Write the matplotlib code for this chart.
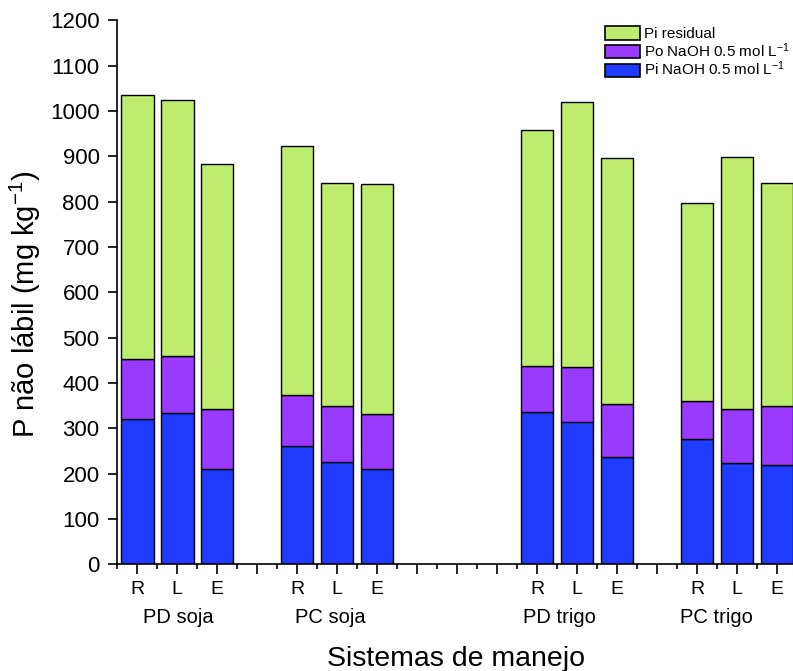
import numpy as np
import matplotlib
matplotlib.use("Agg")
import matplotlib.pyplot as plt
from matplotlib.patches import Patch

plt.rcParams["font.family"] = ["Liberation Sans", "DejaVu Sans"]
plt.rcParams["mathtext.fontset"] = "custom"
plt.rcParams["mathtext.rm"] = "Liberation Sans"
plt.rcParams["mathtext.it"] = "Liberation Sans:italic"
plt.rcParams["mathtext.bf"] = "Liberation Sans:bold"
plt.rcParams["mathtext.default"] = "regular"

# data (mg kg-1)
groups = ["PD soja", "PC soja", "PD trigo", "PC trigo"]
treatments = ["R", "L", "E"]
pi_naoh = [321, 334, 210, 260, 225, 210, 335, 315, 237, 276, 224, 220]
po_naoh = [132, 125, 133, 114, 124, 121, 103, 120, 117, 84, 119, 129]
pi_residual = [582, 565, 540, 549, 492, 507, 520, 584, 543, 438, 556, 493]

# layout: first slot of each group on the x axis
group_start = [1, 5, 11, 15]
group_label_x = [2.02, 5.82, 11.55, 15.49]

c_blue = "#1F3BFF"
c_purple = "#9B3AFF"
c_green = "#BEEC6E"

x = np.array([g + i for g in group_start for i in range(len(treatments))])
blue = np.array(pi_naoh)
purple = np.array(po_naoh)
green = np.array(pi_residual)

fig = plt.figure(figsize=(7.93, 6.71), dpi=100)
ax = fig.add_axes([117.3 / 793, 106.7 / 671, 680 / 793, 544 / 671])

bw = 0.81
kw = dict(width=bw, edgecolor="black", linewidth=1.0)
ax.bar(x, blue, color=c_blue, **kw)
ax.bar(x, purple, bottom=blue, color=c_purple, **kw)
ax.bar(x, green, bottom=blue + purple, color=c_green, **kw)

ax.set_xlim(0.5, 17.5)
ax.set_ylim(0, 1200)
ax.set_yticks(np.arange(0, 1201, 100))

major = np.arange(1, 18)
labels = []
for m in major:
    if m in x:
        labels.append(treatments[list(x).index(m) % 3])
    else:
        labels.append("")
ax.set_xticks(major)
ax.set_xticklabels(labels)
ax.set_xticks(np.arange(0.5, 17.6, 1.0), minor=True)

for s in ["top", "right"]:
    ax.spines[s].set_visible(False)
for s in ["left", "bottom"]:
    ax.spines[s].set_linewidth(1.2)

ax.tick_params(axis="y", which="major", direction="out", length=6.5, width=1.2,
               labelsize=16, pad=6.3)
ax.tick_params(axis="x", which="major", direction="out", length=7.4, width=1.2,
               labelsize=14, pad=4.5)
ax.tick_params(axis="x", which="minor", direction="out", length=3.4, width=1.2)

for gx, name in zip(group_label_x, groups):
    ax.text(gx, -0.1085, name, transform=ax.get_xaxis_transform(),
            ha="center", va="baseline", fontsize=14.5)

ax.set_ylabel("P não lábil (mg kg$^{-1}$)", fontsize=21)
ax.yaxis.set_label_coords(-0.109, 0.4785)
ax.set_xlabel("Sistemas de manejo", fontsize=20.5)
ax.xaxis.label.set_va("baseline")
ax.xaxis.set_label_coords(0.498, -0.187)

handles = [
    Patch(facecolor=c_green, edgecolor="black", linewidth=1.2, label="Pi residual"),
    Patch(facecolor=c_purple, edgecolor="black", linewidth=1.2,
          label="Po NaOH 0.5 mol L$^{-1}$"),
    Patch(facecolor=c_blue, edgecolor="black", linewidth=1.2,
          label="Pi NaOH 0.5 mol L$^{-1}$"),
]
fig.legend(handles=handles, loc="upper left",
           bbox_to_anchor=(605 / 793, 1 - 26.4 / 671),
           bbox_transform=fig.transFigure, frameon=False, fontsize=11,
           borderpad=0, borderaxespad=0, handlelength=2.3, handleheight=0.95,
           handletextpad=0.25, labelspacing=0.0)

fig.savefig("out.png", dpi=100)
